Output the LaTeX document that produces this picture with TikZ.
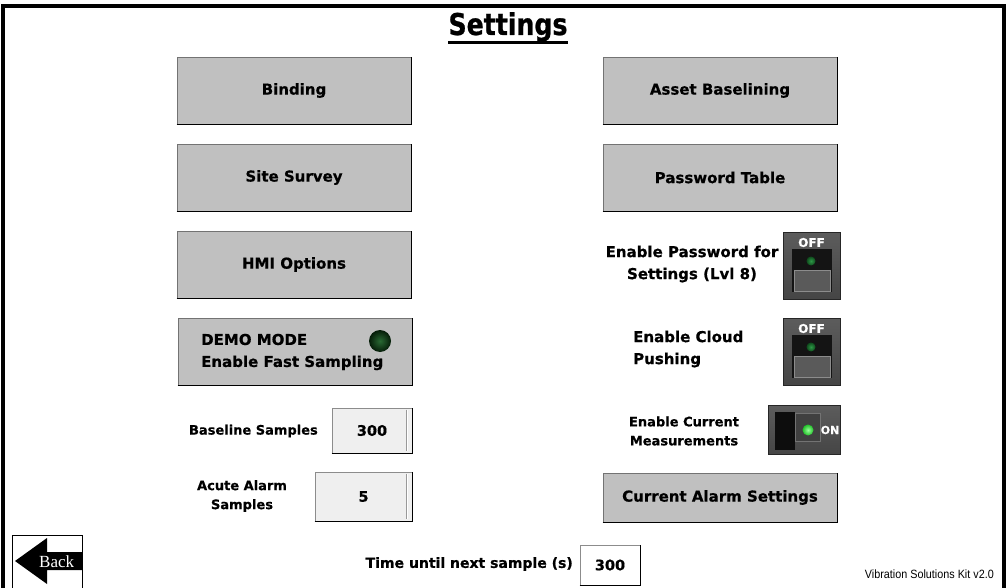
\documentclass[tikz,border=0pt]{standalone}
\usepackage{fontspec}
\newfontfamily\hmi[BoldFeatures={FakeBold=0.6}]{DejaVu Sans}
\newfontfamily\hmititle[FakeStretch=0.84,BoldFeatures={FakeBold=0.8}]{DejaVu Sans}
\newfontfamily\hmiback{Liberation Serif}
\newfontfamily\hmikit[FakeStretch=0.9]{Liberation Sans}
\usetikzlibrary{calc}
\definecolor{btngray}{HTML}{C0C0C0}
\definecolor{fieldgray}{HTML}{EFEFEF}
\definecolor{togbody}{HTML}{454545}
\definecolor{togtop}{HTML}{5C5C5C}
\definecolor{togedge}{HTML}{262626}
\definecolor{togpad}{HTML}{5A5A5A}
\definecolor{leddimin}{HTML}{2E9A48}
\definecolor{leddimout}{HTML}{0F4A1C}
\definecolor{ledonin}{HTML}{9CFF9C}
\definecolor{ledonout}{HTML}{20C028}
\definecolor{leddemoin}{HTML}{2A6A34}
\definecolor{leddemoout}{HTML}{051C08}

\begin{document}
\begin{tikzpicture}[x=1pt,y=-1pt,
  btn/.style={draw=black!55,fill=btngray,line width=0.8pt,minimum width=234pt,minimum height=67pt,inner sep=0pt,font=\hmi\bfseries\fontsize{15}{23}\selectfont},
  lab/.style={inner sep=0pt,font=\hmi\bfseries\fontsize{15}{22}\selectfont},
  sublab/.style={inner sep=0pt,font=\hmi\bfseries\fontsize{13}{19}\selectfont},
  field/.style={draw=black!45,fill=fieldgray,line width=0.8pt,inner sep=0pt,font=\hmi\bfseries\fontsize{14.5}{17}\selectfont},
  toggle/.style={draw=togedge,top color=togtop,bottom color=togbody,line width=1pt,inner sep=0pt,anchor=north west},
  togtxt/.style={inner sep=0pt,text=white,font=\hmi\bfseries\fontsize{12}{14}\selectfont}]

\useasboundingbox[fill=white] (0,0) rectangle (1008,588);

%% frame and title
\draw[line width=3.5pt] (3,588) -- (3,6) -- (1004,6) -- (1004,588);
\node[inner sep=0pt,anchor=base,font=\hmititle\bfseries\fontsize{30}{32}\selectfont] (title) at (508,35) {Settings};
\coordinate (uline) at (0,43);
\draw[line width=3pt] (title.west |- uline) -- (title.east |- uline);

%% left column
\node[btn] (binding) at (294,90.5) {Binding};
\node[btn] (survey) at (294,177.5) {Site Survey};
\node[btn] (hmi) at (294,264.5) {HMI Options};
\node[btn] (demo) at (295,351.5) {};
\node[lab,anchor=west,align=left] (demotxt) at (201,352) {DEMO MODE\\Enable Fast Sampling};
\node[circle,minimum size=22pt,inner sep=0pt,inner color=leddemoin,outer color=leddemoout] (demoled) at (380,341) {};

%% right column
\node[btn] (asset) at (720,90.5) {Asset Baselining};
\node[btn] (pwtable) at (720,177.5) {Password Table};
\node[btn,minimum height=49pt] (curalarm) at (720,497.5) {Current Alarm Settings};

\foreach \b in {binding,survey,hmi,demo,asset,pwtable,curalarm}
  \draw[line width=1.2pt] (\b.south west) -- (\b.south east) -- (\b.north east);

%% numeric fields
\node[sublab,anchor=east] (baselab) at (318,431) {Baseline Samples};
\node[field,minimum width=80pt,minimum height=45pt] (basefield) at (372,430.5) {300};
\node[sublab,align=center] (acutelab) at (242,496) {Acute Alarm\\Samples};
\node[field,minimum width=97pt,minimum height=49pt] (acutefield) at (363.5,496.5) {5};
\node[inner sep=0pt,anchor=east,font=\hmi\bfseries\fontsize{14}{17}\selectfont] (timelab) at (573,564) {Time until next sample (s)};
\node[field,fill=white,minimum width=60pt,minimum height=40pt] (timefield) at (610,565) {300};

\foreach \f in {basefield,acutefield} {
  \draw[line width=1.6pt] (\f.south west) -- (\f.south east) -- (\f.north east);
  \draw[black!40] ($(\f.north east)+(-6,2)$) -- ($(\f.south east)+(-6,-2)$);
  \draw[white,line width=1pt] ($(\f.north east)+(-4.5,2)$) -- ($(\f.south east)+(-4.5,-2)$);
}
\draw[line width=1.6pt] (timefield.south west) -- (timefield.south east) -- (timefield.north east);

%% switches
\node[lab,align=center] (pwlab) at (692,264) {Enable Password for\\Settings (Lvl 8)};
\node[lab,align=left,anchor=west] (cloudlab) at (633,349) {Enable Cloud\\Pushing};
\node[sublab,align=center] (curlab) at (684,431) {Enable Current\\Measurements};

\foreach \t/\y in {pwtog/232,cloudtog/318} {
  \node[toggle,minimum width=57pt,minimum height=67pt] (\t) at (783,\y) {};
  \node[togtxt] (\t-off) at (811.5,\y+10.5) {OFF};
  \fill[black!92] (792,\y+17) rectangle (832,\y+60);
  \draw[fill=togpad,draw=black!45] (794,\y+38) rectangle (830,\y+59);
  \shade[inner color=leddimin,outer color=leddimout] (811,\y+29) circle (4.5);
}

\node[toggle,minimum width=72pt,minimum height=49pt] (curtog) at (768,405) {};
\fill[black!95] (775,412) rectangle (795,450);
\draw[fill=black!75,draw=black!55] (795,413) rectangle (820,441);
\shade[inner color=ledonin,outer color=ledonout] (808,430) circle (5.5);
\node[togtxt,font=\hmi\bfseries\fontsize{11}{13}\selectfont] (curtog-on) at (830,430) {ON};

%% back and version
\draw[line width=1pt] (12,588) -- (12,535) -- (82,535) -- (82,588);
\fill (15,561) -- (47,538) -- (47,552) -- (82,552) -- (82,570) -- (47,570) -- (47,584) -- cycle;
\node[inner sep=0pt,anchor=base west,text=white,font=\hmiback\fontsize{17}{20}\selectfont] (back) at (39,567) {Back};
\node[inner sep=0pt,anchor=base east,font=\hmikit\fontsize{12}{14}\selectfont] (kit) at (994,578) {Vibration Solutions Kit v2.0};
\end{tikzpicture}
\end{document}
